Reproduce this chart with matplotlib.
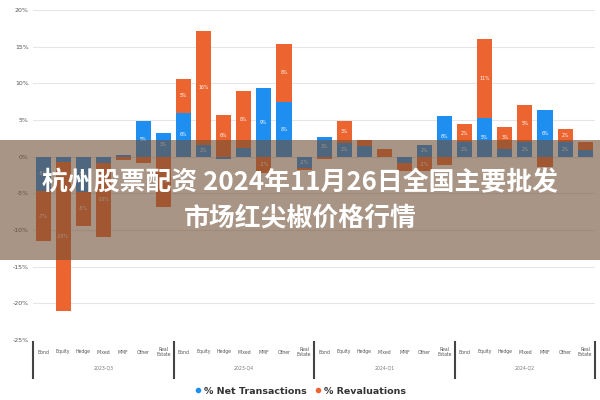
import matplotlib
matplotlib.use("Agg")
import matplotlib.pyplot as plt
import matplotlib.transforms as mtransforms
from matplotlib.patches import Rectangle
from matplotlib.lines import Line2D

categories = ["Bond", "Equity", "Hedge", "Mixed", "MMF", "Other", "Real\nEstate"]
groups = ["2023-Q3", "2023-Q4", "2024-Q1", "2024-Q2"]

net_transactions = [
    -4.7, -0.7, -4.8, -0.8, 0.2, 4.8, 3.2,
    6.0, 1.6, -0.3, 1.2, 9.4, 7.5, -1.5,
    2.7, 1.9, 1.4, 0.0, -0.8, 1.6, 5.5,
    2.0, 5.3, 1.0, 2.0, 6.4, 2.0, 0.9,
]
revaluations = [
    -6.8, -20.3, -4.6, -10.2, -0.5, -0.8, -6.8,
    4.6, 15.6, 5.7, 7.7, -2.2, 7.9, -0.3,
    -0.3, 3.0, 0.9, 1.0, -1.2, -2.0, -1.1,
    2.4, 10.7, 3.1, 5.0, -1.4, 1.8, 1.1,
]

title_line1 = "杭州股票配资 2024年11月26日全国主要批发"
title_line2 = "市场红尖椒价格行情"

blue = "#1f8ef1"
orange = "#ec6530"

fig = plt.figure(figsize=(6, 4), dpi=100)
ax = fig.add_axes([0.055, 0.15, 0.937, 0.825])

n = len(net_transactions)
xs = list(range(n))
width = 0.75

rev_bottom = []
for b, r in zip(net_transactions, revaluations):
    rev_bottom.append(b if (b >= 0) == (r >= 0) else 0.0)

ax.bar(xs, net_transactions, width=width, color=blue, zorder=3)
ax.bar(xs, revaluations, width=width, bottom=rev_bottom, color=orange, zorder=3)

for x, b, r, rb in zip(xs, net_transactions, revaluations, rev_bottom):
    if abs(b) >= 1.5:
        ax.text(x, b / 2, f"{round(b)}%", ha="center", va="center",
                color="white", fontsize=3.3, zorder=4)
    if abs(r) >= 1.5:
        ax.text(x, rb + r / 2, f"{round(r)}%", ha="center", va="center",
                color="white", fontsize=3.3, zorder=4)

ax.set_xlim(-0.5, n - 0.5)
ax.set_ylim(-25, 20)
yt = list(range(-25, 21, 5))
ax.set_yticks(yt)
ax.set_yticklabels([f"{v}%" for v in yt], fontsize=4.5, color="#555555")
ax.tick_params(axis="y", length=0, pad=3)
ax.set_xticks([])
ax.grid(axis="y", color="#e6e6e6", linewidth=0.8, zorder=0)
for s in ax.spines.values():
    s.set_visible(False)

trans = mtransforms.blended_transform_factory(ax.transData, fig.transFigure)
for gi, g in enumerate(groups):
    for ci, c in enumerate(categories):
        x = gi * len(categories) + ci
        ax.text(x, 0.12, c, transform=trans, ha="center", va="center",
                fontsize=3.3, color="#555555", linespacing=1.1)
    ax.text(gi * len(categories) + 3, 0.08, g, transform=trans, ha="center",
            va="center", fontsize=3.3, color="#777777")
for k in range(len(groups) + 1):
    xsep = k * len(categories) - 0.5
    ax.add_line(Line2D([xsep, xsep], [0.055, 0.145], transform=trans,
                       color="#444444", linewidth=1.5, clip_on=False))

handles = [
    Line2D([], [], marker="o", linestyle="none", color=blue, markersize=3),
    Line2D([], [], marker="o", linestyle="none", color=orange, markersize=3),
]
fig.legend(handles, ["% Net Transactions", "% Revaluations"], loc="center",
           bbox_to_anchor=(0.5, 0.022), ncol=2, frameon=False,
           prop={"weight": "bold", "size": 6.8}, labelcolor="#333333",
           handletextpad=0.2, columnspacing=0.8, handlelength=0.8)

band = Rectangle((0, 0.35), 1, 0.30, transform=fig.transFigure,
                 facecolor=(110 / 255, 78 / 255, 52 / 255), alpha=0.6,
                 edgecolor="none", zorder=10)
fig.patches.append(band)
fig.text(0.5, 0.5425, title_line1, ha="center", va="center", color="white",
         fontsize=18.6, fontweight="bold", family=["Noto Sans CJK SC", "DejaVu Sans"], zorder=11)
fig.text(0.5, 0.455, title_line2, ha="center", va="center", color="white",
         fontsize=18.6, fontweight="bold", family=["Noto Sans CJK SC", "DejaVu Sans"], zorder=11)

fig.savefig("out.png", dpi=100)
